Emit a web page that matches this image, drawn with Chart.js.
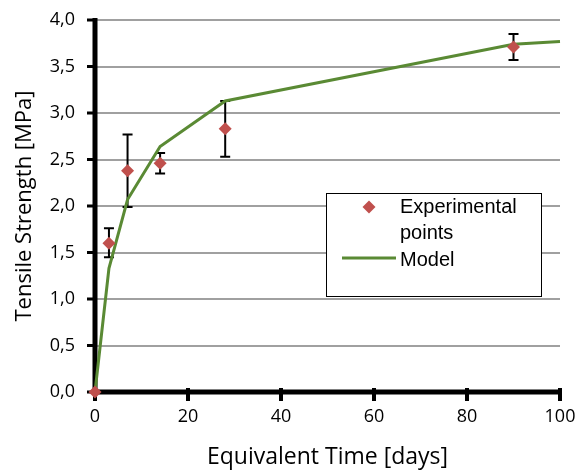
<!DOCTYPE html>
<html>
<head>
<meta charset="utf-8">
<script src="https://cdn.jsdelivr.net/npm/chart.js@4/dist/chart.umd.min.js"></script>
<style>
html,body{margin:0;padding:0;background:#fff;}
#wrap{width:586px;height:471px;position:relative;}
</style>
</head>
<body>
<div id="wrap"><canvas id="c" width="586" height="471"></canvas></div>
<script>
// Experimental points
const expDays = [0, 3, 7, 14, 28, 90];
const expValues = [0, 1.60, 2.38, 2.46, 2.83, 3.71];
const expErrLow = [0, 1.45, 1.99, 2.35, 2.53, 3.57];
const expErrHigh = [0, 1.76, 2.77, 2.57, 3.13, 3.85];
// Model curve
const modelDays = [0, 3, 7, 14, 28, 90, 100];
const modelValues = [0, 1.33, 2.07, 2.64, 3.13, 3.74, 3.77];
// Axis ticks
const xTicks = [0, 20, 40, 60, 80, 100];
const yTicks = [0, 0.5, 1.0, 1.5, 2.0, 2.5, 3.0, 3.5, 4.0];
const yTickLabels = ['0,0', '0,5', '1,0', '1,5', '2,0', '2,5', '3,0', '3,5', '4,0'];
const seriesNames = ['Experimental points', 'Model'];
const legendLines = [['Experimental', 'points'], ['Model']];
const xTitle = 'Equivalent Time [days]';
const yTitle = 'Tensile Strength [MPa]';

const RED = '#C0504D';
const GREEN = '#5A8A34';

const axesAndErrors = {
  id: 'axesAndErrors',
  beforeDatasetsDraw(chart) {
    const {ctx, chartArea: ca, scales: {x, y}} = chart;
    ctx.save();
    ctx.strokeStyle = '#000';
    ctx.lineCap = 'butt';
    ctx.lineWidth = 5;
    ctx.beginPath();
    ctx.moveTo(ca.left, ca.top - 2); ctx.lineTo(ca.left, ca.bottom + 2.5);
    ctx.moveTo(ca.left - 2.5, ca.bottom); ctx.lineTo(ca.right + 2, ca.bottom);
    ctx.stroke();
    ctx.lineWidth = 3;
    ctx.beginPath();
    yTicks.forEach(v => {
      const py = y.getPixelForValue(v);
      ctx.moveTo(ca.left - 8, py); ctx.lineTo(ca.left, py);
    });
    ctx.stroke();
    ctx.lineWidth = 4;
    ctx.beginPath();
    xTicks.forEach(v => {
      const px = x.getPixelForValue(v);
      ctx.moveTo(px, ca.bottom - 4); ctx.lineTo(px, ca.bottom + 9);
    });
    ctx.stroke();
    ctx.lineWidth = 2;
    ctx.beginPath();
    for (let i = 0; i < expDays.length; i++) {
      if (expErrHigh[i] === expErrLow[i]) continue;
      const px = x.getPixelForValue(expDays[i]);
      const yl = y.getPixelForValue(expErrLow[i]);
      const yh = y.getPixelForValue(expErrHigh[i]);
      ctx.moveTo(px, yl); ctx.lineTo(px, yh);
      ctx.moveTo(px - 5, yl); ctx.lineTo(px + 5, yl);
      ctx.moveTo(px - 5, yh); ctx.lineTo(px + 5, yh);
    }
    ctx.stroke();
    ctx.restore();
  }
};

const legendBox = {
  id: 'legendBox',
  afterDraw(chart) {
    const ctx = chart.ctx;
    ctx.save();
    ctx.fillStyle = '#fff';
    ctx.fillRect(326, 193, 215, 103);
    ctx.strokeStyle = '#000';
    ctx.lineWidth = 1;
    ctx.strokeRect(326.5, 193.5, 215, 103);
    ctx.fillStyle = RED;
    ctx.beginPath();
    ctx.moveTo(369, 200.5); ctx.lineTo(375.5, 207); ctx.lineTo(369, 213.5); ctx.lineTo(362.5, 207); ctx.closePath();
    ctx.fill();
    ctx.strokeStyle = GREEN;
    ctx.lineWidth = 3;
    ctx.beginPath();
    ctx.moveTo(342, 258); ctx.lineTo(396, 258);
    ctx.stroke();
    ctx.fillStyle = '#000';
    ctx.font = '20px "Liberation Sans", Arial, sans-serif';
    ctx.textBaseline = 'alphabetic';
    ctx.textAlign = 'left';
    ctx.fillText(legendLines[0][0], 400, 213);
    ctx.fillText(legendLines[0][1], 400, 239);
    ctx.fillText(legendLines[1][0], 400, 266);
    ctx.restore();
  }
};

new Chart(document.getElementById('c'), {
  type: 'scatter',
  data: {
    datasets: [
      {
        label: seriesNames[0],
        data: expDays.map((d, i) => ({x: d, y: expValues[i]})),
        pointStyle: 'rectRot',
        pointRadius: 6.5,
        pointBackgroundColor: RED,
        pointBorderColor: RED,
        pointBorderWidth: 0,
        showLine: false
      },
      {
        label: seriesNames[1],
        data: modelDays.map((d, i) => ({x: d, y: modelValues[i]})),
        showLine: true,
        borderColor: GREEN,
        borderWidth: 3,
        pointRadius: 0,
        tension: 0
      }
    ]
  },
  options: {
    responsive: false,
    animation: false,
    events: [],
    clip: false,
    layout: {padding: {top: 20, right: 26, left: 0, bottom: 0}},
    plugins: {legend: {display: false}, tooltip: {enabled: false}},
    scales: {
      x: {
        type: 'linear',
        min: 0, max: 100,
        afterBuildTicks(s) { s.ticks = xTicks.map(v => ({value: v})); },
        afterFit(s) { s.height = 79; },
        grid: {drawOnChartArea: false, drawTicks: true, tickLength: 12, tickColor: 'rgba(0,0,0,0)'},
        border: {display: false},
        ticks: {color: '#000', padding: 2, maxRotation: 0, font: {family: '"Open Sans"', size: 18}},
        title: {display: true, text: xTitle, color: '#000', padding: {top: 0, bottom: 0}, font: {family: '"Open Sans"', size: 23}}
      },
      y: {
        type: 'linear',
        min: 0, max: 4,
        afterBuildTicks(s) { s.ticks = yTicks.map(v => ({value: v})); },
        afterFit(s) { s.width = 95; },
        grid: {drawOnChartArea: true, drawTicks: true, tickLength: 16, color: '#a0a0a0', lineWidth: 2, tickColor: 'rgba(0,0,0,0)'},
        border: {display: false},
        ticks: {
          color: '#000', padding: 4,
          font: {family: '"Open Sans"', size: 18},
          callback: (v) => { const i = yTicks.indexOf(v); return i >= 0 ? yTickLabels[i] : ''; }
        },
        title: {display: true, text: yTitle, color: '#000', padding: {top: 12, bottom: 0}, font: {family: '"Open Sans"', size: 22}}
      }
    }
  },
  plugins: [axesAndErrors, legendBox]
});
</script>
</body>
</html>
